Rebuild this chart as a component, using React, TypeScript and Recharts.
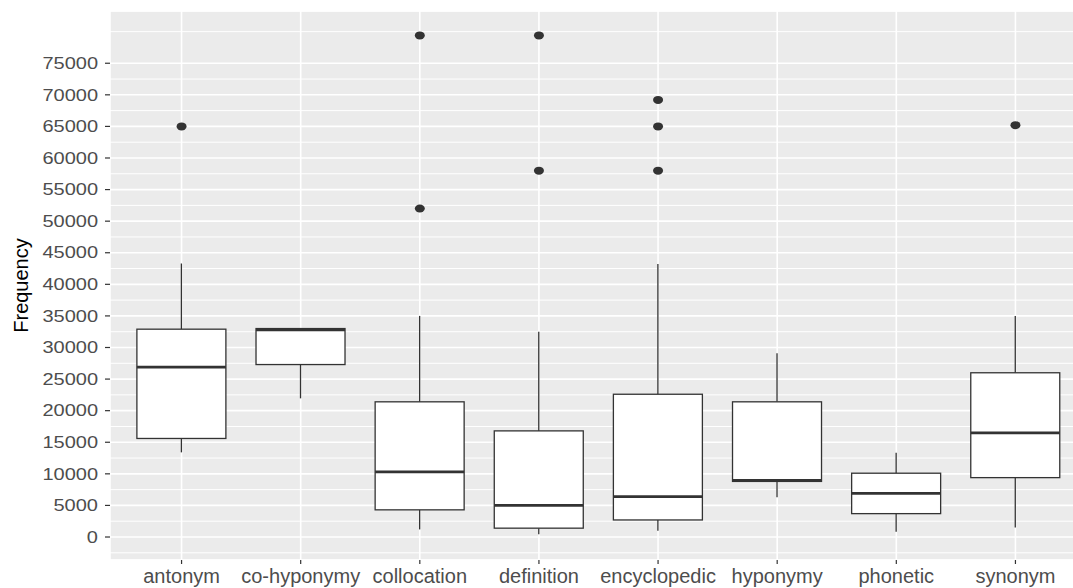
import React from 'react';
import { ComposedChart, Bar, Scatter, XAxis, YAxis, CartesianGrid } from 'recharts';

const categories = ['antonym', 'co-hyponymy', 'collocation', 'definition', 'encyclopedic', 'hyponymy', 'phonetic', 'synonym'];
const whiskerLow = [13400, 21950, 1200, 450, 1000, 6300, 850, 1500];
const q1 = [15600, 27300, 4300, 1400, 2700, 8800, 3700, 9400];
const median = [26900, 32800, 10300, 5000, 6400, 8950, 6900, 16500];
const q3 = [32900, 33000, 21400, 16800, 22600, 21400, 10100, 26000];
const whiskerHigh = [43300, 33000, 35000, 32500, 43200, 29100, 13350, 35000];
const outliers: number[][] = [
  [65000],
  [],
  [79400, 52000],
  [79400, 58000],
  [69200, 65000, 58000],
  [],
  [],
  [65200],
];
const majorTicks = [0, 5000, 10000, 15000, 20000, 25000, 30000, 35000, 40000, 45000, 50000, 55000, 60000, 65000, 70000, 75000];
const minorTicks = [-2500, 2500, 7500, 12500, 17500, 22500, 27500, 32500, 37500, 42500, 47500, 52500, 57500, 62500, 67500, 72500, 77500, 80000];
const yDomain = [-3640, 83270];

const data = categories.map((name, i) => ({
  name,
  range: [whiskerLow[i], whiskerHigh[i]],
  lo: whiskerLow[i],
  q1: q1[i],
  med: median[i],
  q3: q3[i],
  hi: whiskerHigh[i],
  o1: outliers[i][0],
  o2: outliers[i][1],
  o3: outliers[i][2],
}));

const FONT = '"Liberation Sans", Arial, sans-serif';
const LINE = '#333333';

const BoxShape = (props: any) => {
  const { x, y, width, height, payload } = props;
  if (payload == null || !isFinite(y) || !isFinite(height)) return <g />;
  const { lo, hi } = payload;
  const py = (v: number) => y + (height * (hi - v)) / (hi - lo);
  const cx = x + width / 2;
  return (
    <g>
      <line x1={cx} x2={cx} y1={py(hi)} y2={py(payload.q3)} stroke={LINE} strokeWidth={1.3} />
      <line x1={cx} x2={cx} y1={py(payload.q1)} y2={py(lo)} stroke={LINE} strokeWidth={1.3} />
      <rect x={x} y={py(payload.q3)} width={width} height={py(payload.q1) - py(payload.q3)} fill="#ffffff" stroke={LINE} strokeWidth={1.3} />
      <line x1={x} x2={x + width} y1={py(payload.med)} y2={py(payload.med)} stroke={LINE} strokeWidth={2.7} />
    </g>
  );
};

const makeDot = (key: string) => (props: any) => {
  const { cx, cy, payload } = props;
  if (payload == null || payload[key] == null || !isFinite(cy)) return <g />;
  return <ellipse cx={cx} cy={cy} rx={5} ry={4} fill={LINE} />;
};

const YTick = (props: any) => {
  const { x, y, payload } = props;
  return (
    <g transform={`translate(${x},${y})`}>
      <text transform="scale(1.25,1)" textAnchor="end" dy="0.355em" fill="#4d4d4d" fontSize={16} fontFamily={FONT}>
        {payload.value}
      </text>
    </g>
  );
};

const XTick = (props: any) => {
  const { x, y, payload } = props;
  return (
    <text x={x} y={y} textAnchor="middle" dy="0.71em" fill="#4d4d4d" fontSize={20} fontFamily={FONT}>
      {payload.value}
    </text>
  );
};

export default function App() {
  return (
    <div style={{ position: 'absolute', left: 0, top: 0, width: 1073, height: 588, overflow: 'hidden', background: '#fff' }}>
      <ComposedChart
        width={1092}
        height={588}
        data={data}
        margin={{ top: 11, right: 5, bottom: 0, left: 1 }}
        barCategoryGap="12.5%"
      >
        <CartesianGrid yAxisId="minor" vertical={false} fill="#ebebeb" stroke="#ffffff" strokeWidth={1} />
        <CartesianGrid stroke="#ffffff" strokeWidth={1.6} />
        <XAxis
          dataKey="name"
          type="category"
          height={28}
          padding={{ left: 12, right: 12 }}
          axisLine={false}
          tickSize={4}
          tickMargin={5}
          tickLine={{ stroke: LINE, strokeWidth: 1.2 }}
          tick={<XTick />}
          interval={0}
        />
        <YAxis
          type="number"
          domain={yDomain}
          ticks={majorTicks}
          allowDataOverflow
          interval={0}
          width={109}
          axisLine={false}
          tickSize={5}
          tickMargin={7}
          tickLine={{ stroke: LINE, strokeWidth: 1.2 }}
          tick={<YTick />}
          label={{ value: 'Frequency', angle: -90, position: 'insideLeft', offset: 20, style: { textAnchor: 'middle', fontSize: 20, fontFamily: FONT, fill: '#000' } }}
        />
        <YAxis yAxisId="minor" type="number" domain={yDomain} ticks={minorTicks} allowDataOverflow hide />
        <Bar dataKey="range" shape={BoxShape} isAnimationActive={false} />
        <Scatter dataKey="o1" shape={makeDot('o1')} isAnimationActive={false} />
        <Scatter dataKey="o2" shape={makeDot('o2')} isAnimationActive={false} />
        <Scatter dataKey="o3" shape={makeDot('o3')} isAnimationActive={false} />
      </ComposedChart>
    </div>
  );
}
